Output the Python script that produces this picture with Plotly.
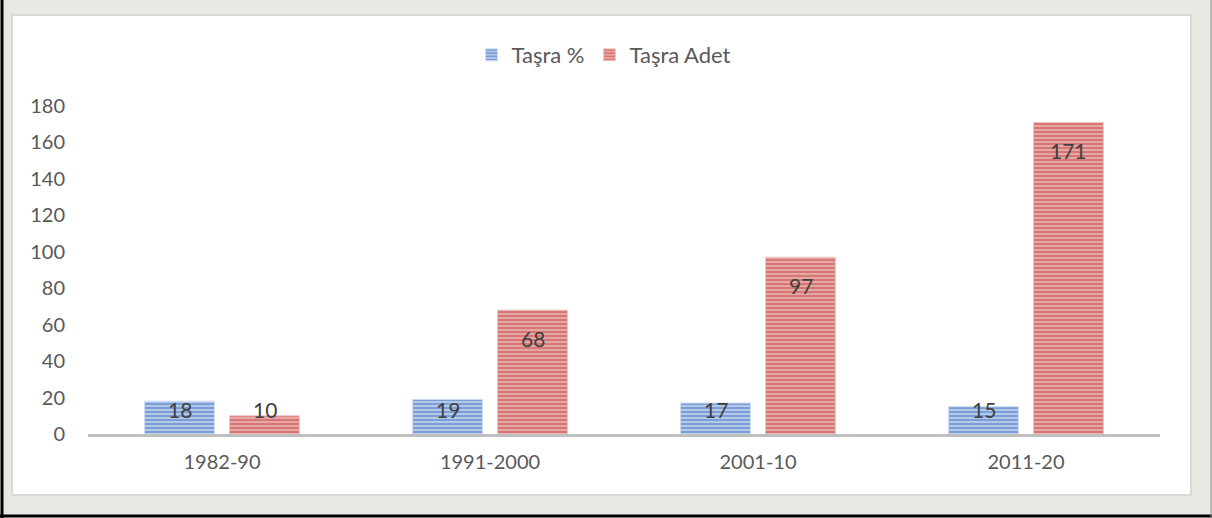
import plotly.graph_objects as go

categories = ["1982-90", "1991-2000", "2001-10", "2011-20"]
tasra_pct = [18, 19, 17, 15]
tasra_adet = [10, 68, 97, 171]
series_names = ["Taşra %", "Taşra Adet"]
y_ticks = [0, 20, 40, 60, 80, 100, 120, 140, 160, 180]

FONT = "Lato, Open Sans, sans-serif"

fig = go.Figure()
fig.add_trace(go.Bar(
    name=series_names[0], x=categories, y=tasra_pct,
    marker=dict(color="#B9CCEC",
                line=dict(color="#D0DCF1", width=1),
                pattern=dict(shape="-", size=4, solidity=0.55,
                             fgcolor="#3F6FC0", bgcolor="#B9CCEC")),
))
fig.add_trace(go.Bar(
    name=series_names[1], x=categories, y=tasra_adet,
    marker=dict(color="#E9AAA9",
                line=dict(color="#F0C6C5", width=1),
                pattern=dict(shape="-", size=4, solidity=0.55,
                             fgcolor="#C24442", bgcolor="#E9AAA9")),
))

# data labels (Excel "inside end" style)
px_per_unit = 328 / 180
annotations = []
for vals, xshift in ((tasra_pct, -42.5), (tasra_adet, 42.5)):
    for c, v in zip(categories, vals):
        top_px = v * px_per_unit
        center_px = max(top_px - 28, 25)
        annotations.append(dict(
            x=c, y=0, xref="x", yref="y", text=str(v), showarrow=False,
            xshift=xshift, yshift=center_px, yanchor="middle",
            font=dict(family=FONT, size=21, color="#404040")))

fig.update_layout(
    width=1212, height=518,
    paper_bgcolor="#E9E9E4", plot_bgcolor="white",
    margin=dict(l=88, r=52, t=106, b=84, autoexpand=False),
    barmode="group", bargap=0.366, bargroupgap=0.176,
    font=dict(family=FONT, size=20, color="#595959"),
    legend=dict(orientation="h", x=0.5 - 20 / 1072, xref="paper", xanchor="center",
                y=1 + 51 / 328, yref="paper", yanchor="middle",
                font=dict(family=FONT, size=22, color="#595959"),
                bgcolor="rgba(0,0,0,0)", traceorder="normal"),
    xaxis=dict(type="category", showgrid=False, showline=True,
               linecolor="#BFBFBF", linewidth=3,
               ticks="", tickfont=dict(family=FONT, size=20, color="#595959"),
               ticklabelstandoff=8),
    yaxis=dict(range=[0, 180], tickvals=y_ticks, showgrid=False, showline=False,
               zeroline=False, ticks="", ticklabelstandoff=22,
               tickfont=dict(family=FONT, size=20, color="#595959")),
    annotations=annotations,
    shapes=[
        dict(type="rect", xref="paper", yref="paper", layer="below",
             x0=-76 / 1072, x1=1103 / 1072, y0=-61 / 328, y1=419 / 328,
             fillcolor="white", line=dict(color="#D9D9D6", width=2)),
        dict(type="line", xref="paper", yref="paper",
             x0=-86 / 1072, x1=-86 / 1072, y0=-84 / 328, y1=434 / 328,
             line=dict(color="black", width=3)),
        dict(type="line", xref="paper", yref="paper",
             x0=-88 / 1072, x1=1124 / 1072, y0=-82 / 328, y1=-82 / 328,
             line=dict(color="black", width=3)),
        dict(type="line", xref="paper", yref="paper",
             x0=1123 / 1072, x1=1123 / 1072, y0=-84 / 328, y1=434 / 328,
             line=dict(color="#8C8C8C", width=1)),
    ],
)

fig.write_html("out.html",
               config={"displayModeBar": False},
               post_script="document.body.style.margin='0';document.body.style.overflow='hidden';")
